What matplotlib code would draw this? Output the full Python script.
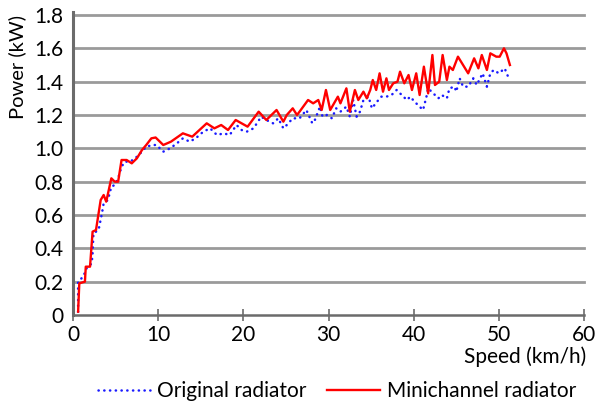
import numpy as np
import matplotlib.pyplot as plt

# Minichannel radiator (red line)
speed_mini = [0.6, 0.74, 1.4, 1.5, 2.0, 2.3, 2.7, 3.25, 3.6, 3.9, 4.5, 4.9, 5.3, 5.7,
              6.3, 6.9, 7.5, 8.1, 8.6, 9.2, 9.7, 10.6, 11.5, 12.9, 14.0, 15.7, 16.6,
              17.4, 18.2, 19.1, 20.5, 21.8, 22.7, 23.9, 24.7, 25.1, 25.8, 26.3, 26.6,
              27.6, 28.2, 28.8, 29.2, 29.7, 30.2, 31.1, 31.4, 32.1, 32.5, 33.1, 33.5,
              34.1, 34.5, 34.9, 35.2, 35.6, 36.0, 36.4, 36.8, 37.1, 37.6, 38.1, 38.4,
              38.9, 39.4, 39.8, 40.3, 40.7, 41.2, 41.7, 42.2, 42.5, 43.0, 43.4, 43.9,
              44.2, 44.6, 45.2, 45.8, 46.4, 47.1, 47.6, 48.0, 48.6, 49.0, 49.7, 50.1,
              50.6, 50.9, 51.3]
power_mini = [0.02, 0.19, 0.20, 0.29, 0.29, 0.50, 0.51, 0.69, 0.72, 0.68, 0.82, 0.80,
              0.80, 0.93, 0.93, 0.91, 0.94, 0.99, 1.02, 1.06, 1.065, 1.02, 1.04, 1.09,
              1.07, 1.15, 1.12, 1.14, 1.11, 1.17, 1.13, 1.22, 1.17, 1.23, 1.16, 1.20,
              1.24, 1.20, 1.22, 1.29, 1.27, 1.29, 1.23, 1.35, 1.23, 1.31, 1.27, 1.36,
              1.22, 1.35, 1.29, 1.34, 1.30, 1.35, 1.41, 1.35, 1.45, 1.34, 1.42, 1.35,
              1.39, 1.40, 1.46, 1.39, 1.44, 1.35, 1.45, 1.32, 1.49, 1.33, 1.56, 1.38,
              1.40, 1.56, 1.41, 1.49, 1.47, 1.55, 1.50, 1.45, 1.54, 1.48, 1.56, 1.47,
              1.57, 1.55, 1.55, 1.60, 1.57, 1.50]

# Original radiator (blue dotted)
speed_orig = [0.6, 0.6, 1.2, 1.6, 2.2, 2.3, 2.4, 3.0, 3.4, 3.6, 4.1, 4.5, 4.9, 5.3, 5.7,
              6.1, 6.7, 7.3, 8.1, 8.6, 9.4, 9.8, 10.6, 11.4, 12.2, 12.9, 13.7, 14.4,
              15.3, 16.1, 16.9, 17.7, 18.4, 19.2, 19.8, 20.4, 21.2, 22.1, 22.7, 23.5,
              24.1, 24.7, 25.1, 25.8, 26.6, 27.4, 28.1, 28.4, 29.0, 29.3, 29.8, 30.4,
              30.9, 31.4, 32.1, 32.5, 32.9, 33.3, 33.7, 34.1, 34.7, 35.1, 35.7, 36.2,
              36.8, 37.4, 38.0, 38.6, 39.2, 39.6, 40.1, 40.7, 41.1, 41.5, 41.7, 42.3,
              42.9, 43.3, 43.9, 44.2, 44.8, 45.0, 45.4, 45.8, 46.4, 47.0, 47.4, 47.8,
              48.1, 48.6, 49.0, 49.4, 50.0, 50.7, 50.9, 51.2]
power_orig = [0.02, 0.20, 0.23, 0.28, 0.31, 0.37, 0.49, 0.51, 0.61, 0.67, 0.69, 0.77,
              0.78, 0.82, 0.89, 0.92, 0.92, 0.94, 0.98, 1.01, 1.02, 1.02, 0.98, 1.00,
              1.03, 1.06, 1.04, 1.06, 1.10, 1.12, 1.08, 1.09, 1.08, 1.14, 1.11, 1.10,
              1.12, 1.19, 1.17, 1.15, 1.18, 1.12, 1.14, 1.18, 1.18, 1.23, 1.15, 1.17,
              1.25, 1.19, 1.20, 1.18, 1.24, 1.22, 1.25, 1.19, 1.29, 1.19, 1.22, 1.29,
              1.31, 1.24, 1.28, 1.31, 1.31, 1.32, 1.35, 1.32, 1.29, 1.31, 1.28, 1.25,
              1.23, 1.31, 1.36, 1.33, 1.30, 1.32, 1.30, 1.36, 1.37, 1.34, 1.42, 1.37,
              1.37, 1.42, 1.38, 1.42, 1.45, 1.37, 1.45, 1.47, 1.45, 1.48, 1.45, 1.42]

x_ticks = [0, 10, 20, 30, 40, 50, 60]
y_ticks = [0, 0.2, 0.4, 0.6, 0.8, 1.0, 1.2, 1.4, 1.6, 1.8]
y_labels = ['0', '0.2', '0.4', '0.6', '0.8', '1.0', '1.2', '1.4', '1.6', '1.8']

plt.rcParams['font.family'] = ['Lato', 'DejaVu Sans']

fig = plt.figure(figsize=(5.95, 4.01), dpi=100)
ax = fig.add_axes([73 / 595, 1 - 315 / 401, 511 / 595, 300 / 401])

ax.plot(speed_orig, power_orig, color='#1a1aff', lw=1.8, linestyle=(0, (0.1, 2.2)),
        dash_capstyle='round', label='Original radiator', zorder=3)
ax.plot(speed_mini, power_mini, color='#ff0000', lw=1.7, label='Minichannel radiator', zorder=4)

ax.set_xlim(0, 60)
ax.set_ylim(0, 1.8)
ax.set_xticks(x_ticks)
ax.set_yticks(y_ticks)
ax.set_yticklabels(y_labels)
for y in y_ticks[1:]:
    ax.axhline(y, color='#9a9a9a', lw=2.0, zorder=1, clip_on=False)

for s in ['top', 'right']:
    ax.spines[s].set_visible(False)
ax.spines['left'].set_color('#6b6b6b')
ax.spines['left'].set_linewidth(2.2)
ax.spines['left'].set_bounds(0, 1.82)
ax.spines['bottom'].set_color('#6b6b6b')
ax.spines['bottom'].set_linewidth(1.8)

ax.tick_params(axis='x', direction='inout', length=8, width=1.2, color='#6b6b6b',
               labelsize=15, pad=3)
ax.tick_params(axis='y', length=0, labelsize=15, pad=7)

fig.text(17 / 595, 1 - 67 / 401, 'Power (kW)', rotation=90, ha='center', va='center',
         fontsize=14.5)
fig.text(586 / 595, 1 - 357 / 401, 'Speed (km/h)', ha='right', va='center', fontsize=15)

ax.legend(loc='center', bbox_to_anchor=(337 / 595, 1 - 391 / 401),
          bbox_transform=fig.transFigure, ncol=2, frameon=False,
          fontsize=15, handlelength=2.5, columnspacing=1.0, handletextpad=0.35,
          borderpad=0, borderaxespad=0)

fig.savefig('out.png', dpi=100)
